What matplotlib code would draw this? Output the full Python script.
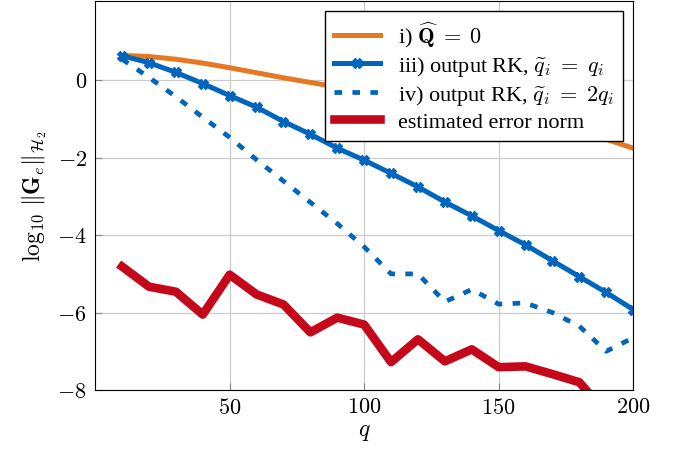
import numpy as np
import matplotlib

matplotlib.use("Agg")
import matplotlib.pyplot as plt
from matplotlib.ticker import FuncFormatter

plt.rcParams["font.family"] = ["Liberation Serif", "DejaVu Serif"]
plt.rcParams["mathtext.fontset"] = "cm"

q = [10, 20, 30, 40, 50, 60, 70, 80, 90, 100,
     110, 120, 130, 140, 150, 160, 170, 180, 190, 200]

err_zero = [0.65, 0.62, 0.55, 0.45, 0.33, 0.20, 0.07, -0.05, -0.17, -0.30,
            -0.42, -0.55, -0.68, -0.80, -0.93, -1.07, -1.20, -1.35, -1.52, -1.75]
err_rk_q = [0.64, 0.46, 0.21, -0.08, -0.39, -0.69, -1.06, -1.39, -1.75, -2.06,
            -2.40, -2.75, -3.14, -3.50, -3.88, -4.25, -4.66, -5.07, -5.48, -5.92]
err_rk_2q = [0.55, 0.08, -0.42, -0.95, -1.47, -2.05, -2.60, -3.15, -3.70, -4.30,
             -5.00, -5.00, -5.72, -5.40, -5.78, -5.75, -6.00, -6.35, -7.00, -6.65]
err_est = [-4.81, -5.33, -5.46, -6.05, -5.02, -5.53, -5.79, -6.51, -6.13, -6.31,
           -7.28, -6.69, -7.26, -6.95, -7.41, -7.39, -7.59, -7.80, -8.60, -8.90]

orange = "#E87722"
blue = "#0065BD"
red = "#C4071B"

fig = plt.figure(figsize=(6.75, 4.52), dpi=100)
ax = fig.add_axes([0.141, 0.135, 0.797, 0.861])

ax.plot(q, err_zero, color=orange, lw=3.6,
        label=r"i) $\widehat{\mathbf{Q}}\;=\;\mathbf{0}$")
ax.plot(q, err_rk_q, color=blue, lw=3.6, marker="X", markersize=7,
        label=r"iii) output RK, $\widetilde{q}_i\;=\;q_i$")
ax.plot(q, err_rk_2q, color=blue, lw=3.4, linestyle=(0, (1.6, 2.2)),
        label=r"iv) output RK, $\widetilde{q}_i\;=\;2q_i$")
ax.plot(q, err_est, color=red, lw=6.2, label="estimated error norm")

ax.set_xlim(0, 200)
ax.set_ylim(-8, 2.06)
ax.set_xticks([50, 100, 150, 200])
ax.set_yticks([-8, -6, -4, -2, 0])
ax.xaxis.set_major_formatter(FuncFormatter(lambda v, p: f"${v:g}$"))
ax.yaxis.set_major_formatter(FuncFormatter(lambda v, p: f"${v:g}$"))
ax.tick_params(direction="in", length=5, color="#888888", labelsize=16,
               pad=6)
ax.grid(True, color="#cccccc", linewidth=0.9)
ax.set_axisbelow(True)

ax.set_xlabel(r"$q$", fontsize=17, labelpad=2)
ax.set_ylabel(r"$\log_{10}\,\|\mathbf{G}_e\|_{\mathcal{H}_2}$", fontsize=17,
              labelpad=6)

leg = ax.legend(loc="upper right", fontsize=16, handlelength=2.1,
                borderaxespad=0.45, fancybox=False, framealpha=1,
                edgecolor="black", labelspacing=0.22, borderpad=0.4)
leg.get_frame().set_linewidth(1.0)

fig.savefig("out.png", dpi=100)
